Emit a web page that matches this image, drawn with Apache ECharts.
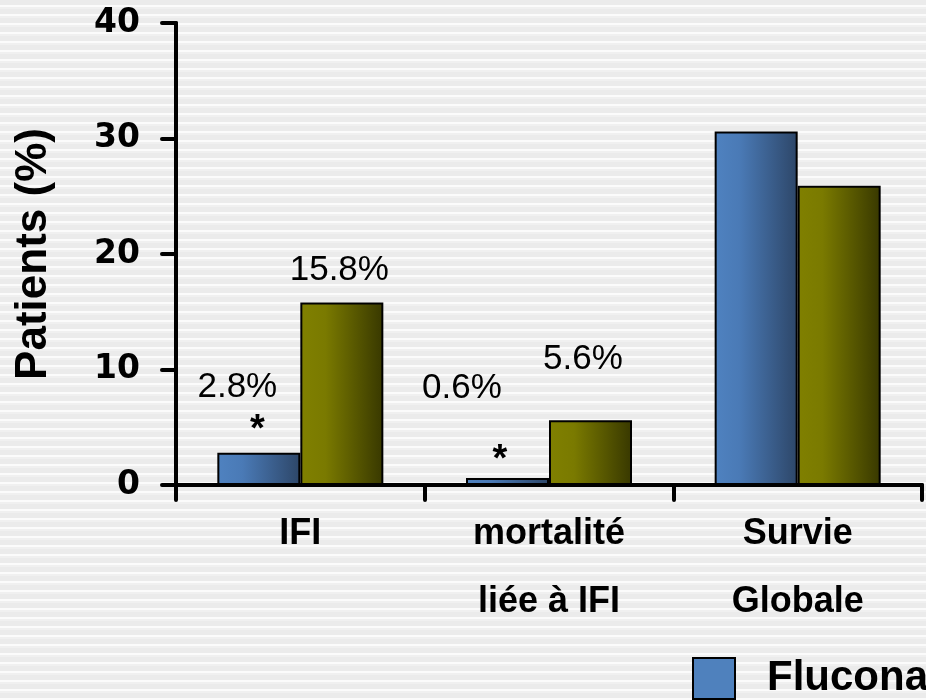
<!DOCTYPE html>
<html>
<head>
<meta charset="utf-8">
<script src="https://cdn.jsdelivr.net/npm/echarts@6/dist/echarts.min.js"></script>
<style>
  html, body { margin: 0; padding: 0; }
  #chart {
    width: 926px; height: 700px;
    background: repeating-linear-gradient(to bottom, #ebebeb 0px, #ebebeb 5px, #fbfbfb 5px, #fbfbfb 7px, #f0f0f0 7px, #f0f0f0 9px);
  }
</style>
</head>
<body>
<div id="chart"></div>
<script>
// Categories and percentages of patients per arm
const categories = ['IFI', 'mortalité\nliée à IFI', 'Survie\nGlobale'];
const seriesNames = ['Fluconazole', 'Placebo'];
const fluconazole = [2.8, 0.6, 30.6];
const placebo = [15.8, 5.6, 25.9];
const yTicks = { min: 0, max: 40, interval: 10 };

// which bars carry a printed percentage (Fluconazole ones also get a significance star)
const fluconazoleLabelled = [true, true, false];
const placeboLabelled = [true, true, false];

const LBL_FONT = '"Liberation Sans", Arial, sans-serif';

const blueFill = {
  type: 'linear', x: 0, y: 0, x2: 1, y2: 0,
  colorStops: [
    { offset: 0, color: '#4f82c0' },
    { offset: 0.3, color: '#4a7ab6' },
    { offset: 1, color: '#2d4668' }
  ]
};
const oliveFill = {
  type: 'linear', x: 0, y: 0, x2: 1, y2: 0,
  colorStops: [
    { offset: 0, color: '#808000' },
    { offset: 0.3, color: '#7a7a00' },
    { offset: 1, color: '#383800' }
  ]
};

// label placement for the Fluconazole bars: value text with a star line under it
const blueLabelLayout = [
  { dx: -1.5, shift: 40, starLine: 51, dy: 3 },
  { dx: -7.5, shift: 76, starLine: 109, dy: 37 }
];
const oliveLabelLayout = [
  { dx: -2.5, dy: -15 },
  { dx: -7.5, dy: -43 }
];

const blueData = fluconazole.map((v, i) => {
  if (!fluconazoleLabelled[i]) return v;
  const l = blueLabelLayout[i];
  return {
    value: v,
    label: {
      show: true,
      position: 'top',
      distance: 0,
      offset: [l.dx, l.dy],
      formatter: '{v|' + v.toFixed(1) + '%}\n{s|*}',
      rich: {
        v: { fontFamily: LBL_FONT, fontSize: 35, lineHeight: 35, color: '#000', padding: [0, l.shift, 0, 0] },
        s: { fontFamily: LBL_FONT, fontSize: 38, fontWeight: 'bold', lineHeight: l.starLine, color: '#000' }
      }
    }
  };
});

const oliveData = placebo.map((v, i) => {
  if (!placeboLabelled[i]) return v;
  const l = oliveLabelLayout[i];
  return {
    value: v,
    label: {
      show: true,
      position: 'top',
      distance: 0,
      offset: [l.dx, l.dy],
      formatter: v.toFixed(1) + '%',
      fontFamily: LBL_FONT, fontSize: 35, color: '#000'
    }
  };
});

const chart = echarts.init(document.getElementById('chart'), null, { renderer: 'canvas' });

chart.setOption({
  backgroundColor: 'transparent',
  animation: false,
  grid: { left: 176, right: 4, top: 23, bottom: 215, containLabel: false },
  legend: {
    left: 692, top: 657,
    padding: 0,
    icon: 'rect',
    itemWidth: 42, itemHeight: 41,
    itemGap: 60,
    data: [
      { name: seriesNames[0], itemStyle: { color: '#4f81bd', borderColor: '#000', borderWidth: 2 } },
      { name: seriesNames[1], itemStyle: { color: '#808000', borderColor: '#000', borderWidth: 2 } }
    ],
    textStyle: { fontFamily: LBL_FONT, fontSize: 42, fontWeight: 'bold', color: '#000', padding: [0, 0, 0, 27] }
  },
  xAxis: {
    type: 'category',
    data: categories,
    axisLine: { lineStyle: { color: '#000', width: 4, cap: 'round' } },
    axisTick: { show: true, length: 15, lineStyle: { color: '#000', width: 4, cap: 'round' } },
    axisLabel: {
      interval: 0, margin: 15,
      fontFamily: LBL_FONT, fontSize: 36, fontWeight: 'bold', lineHeight: 68, color: '#000'
    },
    splitLine: { show: false }
  },
  yAxis: {
    type: 'value',
    min: yTicks.min, max: yTicks.max, interval: yTicks.interval,
    name: 'Patients (%)',
    nameLocation: 'middle',
    nameGap: 120,
    nameTextStyle: { fontFamily: LBL_FONT, fontSize: 44, fontWeight: 'bold', color: '#000' },
    axisLine: { show: true, lineStyle: { color: '#000', width: 4, cap: 'round' } },
    axisTick: { show: true, length: 14, lineStyle: { color: '#000', width: 4, cap: 'round' } },
    axisLabel: {
      margin: 36,
      fontFamily: '"DejaVu Sans", sans-serif', fontSize: 33, fontWeight: 'bold', color: '#000'
    },
    splitLine: { show: false }
  },
  series: [
    {
      name: seriesNames[0], type: 'bar',
      barWidth: 83, barGap: '0%',
      itemStyle: { color: blueFill, borderColor: '#000', borderWidth: 2 },
      data: blueData
    },
    {
      name: seriesNames[1], type: 'bar',
      barWidth: 83, barGap: '0%',
      itemStyle: { color: oliveFill, borderColor: '#000', borderWidth: 2 },
      data: oliveData
    }
  ]
});
</script>
</body>
</html>
